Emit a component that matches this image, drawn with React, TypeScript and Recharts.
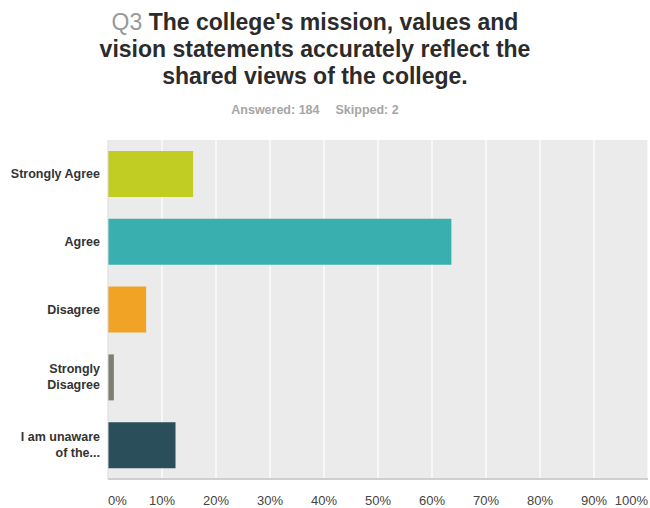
import React from 'react';
import { BarChart, Bar, XAxis, YAxis, CartesianGrid, Cell } from 'recharts';

const categories = ['Strongly Agree', 'Agree', 'Disagree', 'Strongly Disagree', 'I am unaware of the...'];
const tickLines = [['Strongly Agree'], ['Agree'], ['Disagree'], ['Strongly', 'Disagree'], ['I am unaware', 'of the...']];
const shares = [0.1576, 0.6359, 0.0707, 0.0109, 0.125];
const barColors = ['#c2cd23', '#3aafb0', '#f0a324', '#7e8072', '#2a4e5a'];
const xTicks = [0, 0.1, 0.2, 0.3, 0.4, 0.5, 0.6, 0.7, 0.8, 0.9, 1];

const FONT = '"Liberation Sans", Arial, Helvetica, sans-serif';

const data = categories.map((name, i) => ({ name, value: shares[i] }));

const YTick = (props: any) => {
  const { x, y, index } = props;
  const lines = tickLines[index] || [props.payload.value];
  const lh = 16;
  const start = y - ((lines.length - 1) * lh) / 2;
  return (
    <text x={x} y={start} textAnchor="end" dominantBaseline="central" fill="#333" fontSize={12.5} fontWeight="bold" fontFamily={FONT}>
      {lines.map((l: string, i: number) => (
        <tspan key={i} x={x} y={start + i * lh}>{l}</tspan>
      ))}
    </text>
  );
};

const XTick = (props: any) => {
  const { x, y, payload } = props;
  const v = payload.value;
  const anchor = v === 0 ? 'start' : v === 1 ? 'end' : 'middle';
  return (
    <text x={x} y={y + 18} textAnchor={anchor} fill="#444" fontSize={13} fontFamily={FONT}>
      {Math.round(v * 100)}%
    </text>
  );
};

export default function App() {
  return (
    <div style={{ position: 'absolute', left: 0, top: 0, width: 650, height: 508, background: '#fff', fontFamily: FONT }}>
      <div style={{ position: 'absolute', left: 0, top: 0, width: 650, height: 508 }}>
        <BarChart width={650} height={508} data={data} layout="vertical" margin={{ top: 140, right: 2, bottom: 0, left: 0 }}>
          <CartesianGrid horizontal={false} fill="#ebebeb" stroke="#ffffff" strokeWidth={1.2} />
          <XAxis type="number" domain={[0, 1]} ticks={xTicks} height={29} tickLine={false} axisLine={{ stroke: '#cfcfcf', strokeWidth: 2 }} tick={<XTick />} interval={0} />
          <YAxis type="category" dataKey="name" width={108} tickLine={false} axisLine={{ stroke: '#d6d6d6' }} tick={<YTick />} interval={0} />
          <Bar dataKey="value" barSize={46} isAnimationActive={false}>
            {data.map((d, i) => (
              <Cell key={d.name} fill={barColors[i]} />
            ))}
          </Bar>
        </BarChart>
      </div>
      <div style={{ position: 'absolute', left: 0, top: 9, width: 630, textAlign: 'center', fontSize: 23, lineHeight: '27px', fontWeight: 'bold', color: '#2b2b2b' }}>
        <span style={{ color: '#999', fontWeight: 'normal' }}>Q3</span> The college's mission, values and<br />
        vision statements accurately reflect the<br />
        shared views of the college.
      </div>
      <div style={{ position: 'absolute', left: 0, top: 102, width: 630, textAlign: 'center', fontSize: 12.5, lineHeight: '16px', fontWeight: 'bold', color: '#a5a5a5' }}>
        Answered: 184<span style={{ display: 'inline-block', width: 16 }} />Skipped: 2
      </div>
    </div>
  );
}
